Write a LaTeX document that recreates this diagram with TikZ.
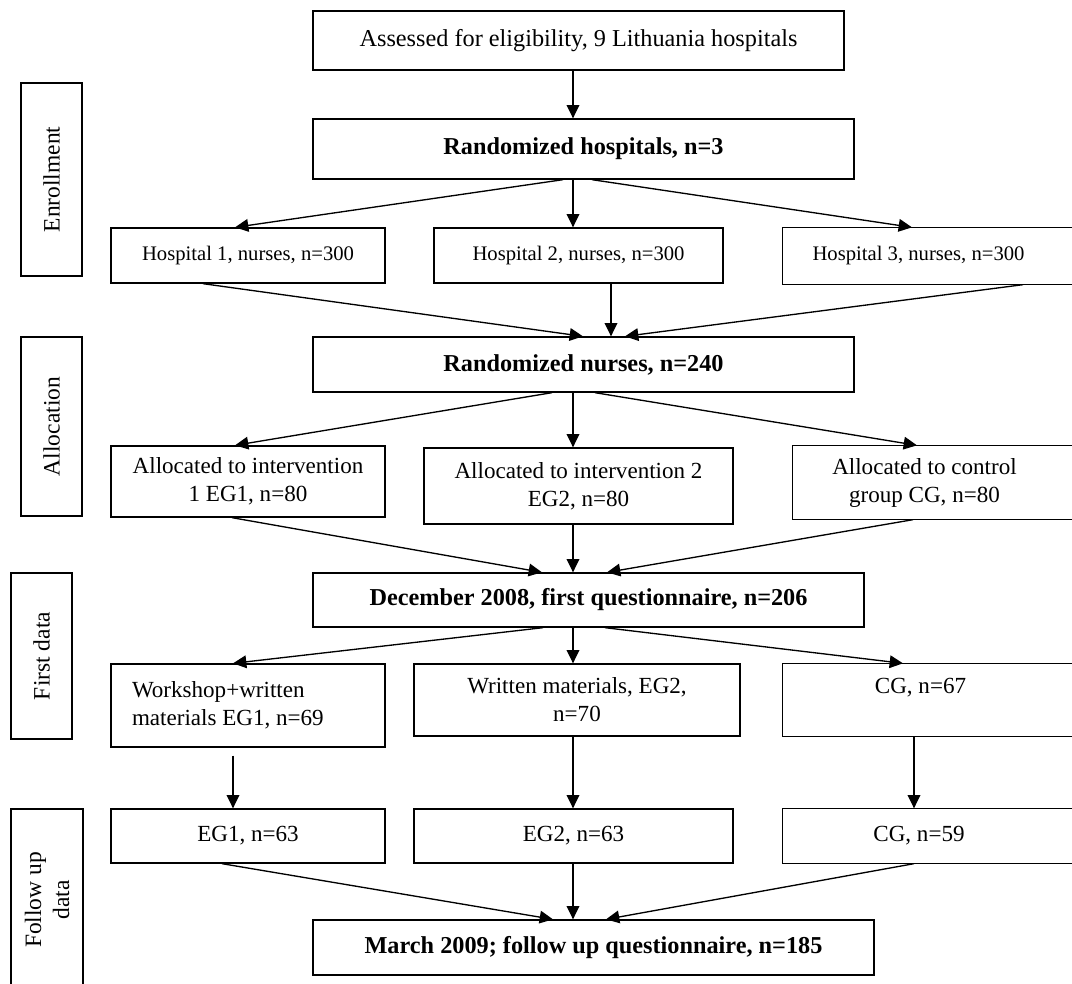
\documentclass[tikz,border=0pt]{standalone}
\usepackage{fontspec}
\setmainfont{Liberation Serif}
\usetikzlibrary{arrows.meta,calc}
\newcommand\fmain{\fontsize{17.3pt}{21pt}\selectfont}
\newcommand\fbig{\fontsize{18.2pt}{21pt}\selectfont}
\newcommand\fside{\fontsize{17.6pt}{21pt}\selectfont}
\newcommand\fhosp{\fontsize{15.5pt}{18.5pt}\selectfont}
\begin{document}
\begin{tikzpicture}[x=0.75pt,y=-0.75pt,
  sz/.style 2 args={minimum width=#1*0.75pt,minimum height=#2*0.75pt},
  bx/.style={draw,line width=1pt,inner sep=0pt,align=center,font=\fmain},
  tb/.style={bx,font=\fbig},
  hb/.style={bx,font=\fhosp},
  bb/.style={bx,font=\fbig\bfseries},
  side/.style={draw,line width=1pt,inner sep=0pt,align=center,font=\fside,rotate=90},
  arr/.style={line width=1pt,-{Triangle[length=10pt,width=9.5pt]}},
  rim/.style={line width=1pt}]
\useasboundingbox (0,0) rectangle (1072,983);
\clip (0,0) rectangle (1072,983);

% main boxes
\node[tb,sz={531}{59}] (A) at (578.5,40.5) {Assessed for eligibility, 9 Lithuania hospitals};
\node[bb,sz={541}{60}] (RH) at (583.5,149) {Randomized hospitals, n=3};
\node[hb,sz={274}{55}] (H1) at (248,255.5) {Hospital 1, nurses, n=300};
\node[hb,sz={289}{55}] (H2) at (578.5,255.5) {Hospital 2, nurses, n=300};
\node[hb,draw=none,sz={271}{56}] (H3) at (918.5,256) {Hospital 3, nurses, n=300};
\node[bb,sz={541}{55}] (RN) at (583.5,364.5) {Randomized nurses, n=240};
\node[bx,sz={274}{71}] (AL1) at (248,481.5) {Allocated to intervention\\1 EG1, n=80};
\node[bx,sz={309}{76}] (AL2) at (578.5,486) {Allocated to intervention 2\\EG2, n=80};
\node[bx,draw=none,sz={263}{73}] (AL3) at (924.5,482.5) {Allocated to control\\group CG, n=80};
\node[bb,sz={551}{54}] (D) at (588.5,600) {December 2008, first questionnaire, n=206};
\node[bx,align=flush left,text width=174pt,sz={274}{83}] (W1) at (248,705.5) {Workshop+written\\materials EG1, n=69};
\node[bx,sz={326}{72}] (W2) at (577,700) {Written materials, EG2,\\n=70};
\node[bx,draw=none,sz={275}{72}] (W3) at (920.5,700) {CG, n=67\\\mbox{}};
\node[bx,sz={274}{54}] (F1) at (248,836) {EG1, n=63};
\node[bx,sz={319}{54}] (F2) at (573.5,836) {EG2, n=63};
\node[bx,draw=none,sz={272}{54}] (F3) at (919,836) {CG, n=59};
\node[bb,sz={561}{55}] (M) at (593.5,947.5) {March 2009; follow up questionnaire, n=185};

% right-column boxes run past the right edge
\foreach \n in {H3,AL3,W3,F3}
  \draw[rim] (1090,0 |- \n.north) -- (\n.north west) -- (\n.south west) -- (1090,0 |- \n.south);

% side labels
\node[side,minimum width=144.75pt,minimum height=45.75pt] (SE) at (51.5,179.5) {Enrollment};
\node[side,minimum width=134.25pt,minimum height=45.75pt] (SA) at (51.5,426.5) {Allocation};
\node[side,minimum width=124.5pt,minimum height=45.75pt] (SF) at (41.5,656) {First data};
\node[side,minimum width=136.5pt,minimum height=54pt] (SU) at (47,900) {Follow up\\data};

% connectors
\draw[arr] (573,0 |- A.south) -- (573,0 |- RH.north);
\draw[arr] (563,0 |- RH.south) -- (235,0 |- H1.north);
\draw[arr] (573,0 |- RH.south) -- (573,0 |- H2.north);
\draw[arr] (592,0 |- RH.south) -- (912,0 |- H3.north);
\draw[arr] (203,0 |- H1.south) -- (583,0 |- RN.north);
\draw[arr] (611,0 |- H2.south) -- (611,0 |- RN.north);
\draw[arr] (1023,0 |- H3.south) -- (625,0 |- RN.north);
\draw[arr] (552,0 |- RN.south) -- (235,0 |- AL1.north);
\draw[arr] (573,0 |- RN.south) -- (573,0 |- AL2.north);
\draw[arr] (595,0 |- RN.south) -- (917,0 |- AL3.north);
\draw[arr] (232,0 |- AL1.south) -- (542,0 |- D.north);
\draw[arr] (573,0 |- AL2.south) -- (573,0 |- D.north);
\draw[arr] (913,0 |- AL3.south) -- (607,0 |- D.north);
\draw[arr] (543,0 |- D.south) -- (233,0 |- W1.north);
\draw[arr] (573,0 |- D.south) -- (573,0 |- W2.north);
\draw[arr] (605,0 |- D.south) -- (903,0 |- W3.north);
\draw[arr] ($(233,0 |- W1.south)+(0,8)$) -- (233,0 |- F1.north);
\draw[arr] (573,0 |- W2.south) -- (573,0 |- F2.north);
\draw[arr] (914,0 |- W3.south) -- (914,0 |- F3.north);
\draw[arr] (222,0 |- F1.south) -- (553,0 |- M.north);
\draw[arr] (573,0 |- F2.south) -- (573,0 |- M.north);
\draw[arr] (914,0 |- F3.south) -- (606,0 |- M.north);
\end{tikzpicture}
\end{document}
